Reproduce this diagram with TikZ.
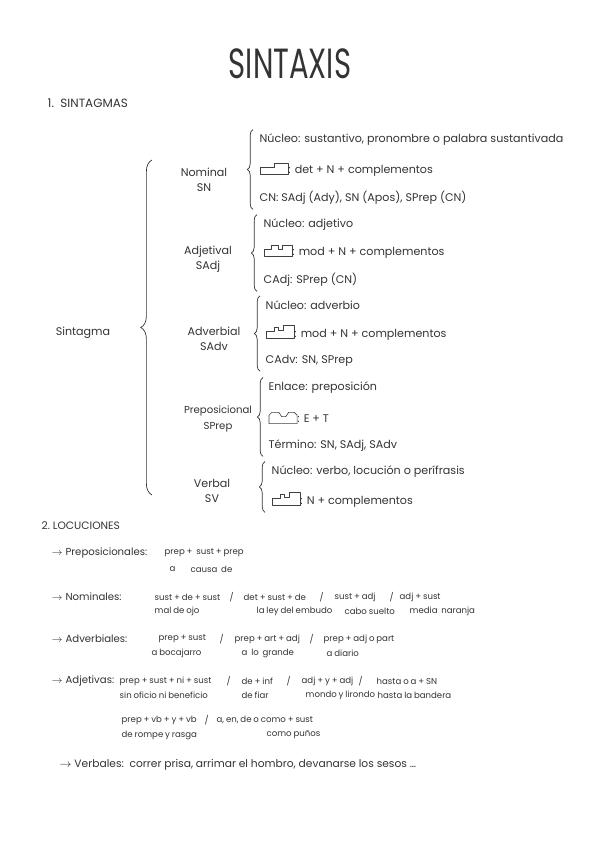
\documentclass[tikz,border=0pt]{standalone}
\usepackage{fontspec}
\setmainfont{Poppins}
\usetikzlibrary{decorations.pathreplacing,calc}

% small stepped box drawn inside the item texts
\newcommand{\stepicon}[1]{\tikz[baseline=0.5pt,x=1pt,y=1pt]\draw[line width=0.45pt,line join=round,black!75] #1;}
\newcommand{\iconnom}{\stepicon{(0,0)--(0,5)--(10,5)--(10,8)--(20,8)--(20,0)--cycle}}
\newcommand{\iconadj}{\stepicon{(0,0)--(0,5)--(5,5)--(5,8)--(10,8)--(10,5)--(13,5)--(13,8)--(20,8)--(20,0)--cycle}}
\newcommand{\iconadv}{\stepicon{(0,0)--(0,5)--(6,5)--(6,8)--(9,8)--(9,6)--(12,6)--(12,9)--(20,9)--(20,0)--cycle}}
\newcommand{\iconprep}{\stepicon{(0,0)--(0,6)--(2,8)--(7,8)--(9,5)--(12,5)--(14,8)--(18,8)--(20,6)--(20,0)--cycle}}
% tight word spaces for the small pattern texts
\newcommand{\subfont}{\fontsize{6.1}{8}\selectfont\spaceskip=0.22em plus 0.05em\relax}

\begin{document}
\begin{tikzpicture}[
  x=0.025cm, y=-0.025cm,
  font=\fontsize{7.9}{11}\selectfont,
  color=black!80,
  txt/.style={anchor=west, inner sep=1pt},
  lbl/.style={align=center, inner sep=1pt},
  sub/.style={txt, font=\subfont},
  head/.style={txt, font=\fontsize{7.2}{9}\selectfont},
  curly/.style={decorate, decoration={brace, amplitude=#1}, line width=0.5pt},
  curly/.default=4pt
]
\useasboundingbox (0,0) rectangle (600,848);

% Title
\node[transform shape, xscale=0.69, font=\fontsize{30}{30}\selectfont] (title) at (290,64) {SINTAXIS};
\node[txt, font=\fontsize{8.5}{10}\selectfont] (sec1) at (46,103) {1.\ \ SINTAGMAS};

% Main tree
\node[lbl] (sint) at (83,333) {Sintagma};
\coordinate (bigtop) at (152,160);
\coordinate (bigbot) at (152,495);
\draw[curly=8pt] (bigbot) -- (bigtop);

% Nominal
\node[lbl] (nom) at (204,180) {Nominal\\SN};
\node[txt] (nom1) at (258,140) {Núcleo: sustantivo, pronombre o palabra sustantivada};
\node[txt] (nom2) at (258,170) {\iconnom: det + N + complementos};
\node[txt] (nom3) at (258,198) {CN: SAdj (Ady), SN (Apos), SPrep (CN)};
\draw[curly] ($(nom3.south west)+(-5,3)$) -- ($(nom1.north west)+(-5,-3)$);

% Adjetival
\node[lbl] (adj) at (208,259) {Adjetival\\SAdj};
\node[txt] (adj1) at (262,225) {Núcleo: adjetivo};
\node[txt] (adj2) at (262,252) {\iconadj: mod + N + complementos};
\node[txt] (adj3) at (262,280) {CAdj: SPrep (CN)};
\draw[curly] ($(adj3.south west)+(-5,3)$) -- ($(adj1.north west)+(-5,-3)$);

% Adverbial
\node[lbl] (adv) at (214,339) {Adverbial\\SAdv};
\node[txt] (adv1) at (264,305) {Núcleo: adverbio};
\node[txt] (adv2) at (264,333) {\iconadv: mod + N + complementos};
\node[txt] (adv3) at (264,361) {CAdv: SN, SPrep};
\draw[curly] ($(adv3.south west)+(-4,3)$) -- ($(adv1.north west)+(-4,-3)$);

% Preposicional
\node[lbl, font=\fontsize{7.2}{11}\selectfont] (prep) at (218,419) {Preposicional\\SPrep};
\node[txt] (prep1) at (267,388) {Enlace: preposición};
\node[txt] (prep2) at (267,418) {\iconprep: E + T};
\node[txt] (prep3) at (267,446) {Término: SN, SAdj, SAdv};
\draw[curly] ($(prep3.south west)+(-4,3)$) -- ($(prep1.north west)+(-4,-3)$);

% Verbal
\node[lbl] (verb) at (212,491) {Verbal\\SV};
\node[txt] (verb1) at (270,472) {Núcleo: verbo, locución o perífrasis};
\node[txt] (verb2) at (270,500) {\iconadv: N + complementos};
\draw[curly] ($(verb2.south west)+(-5,3)$) -- ($(verb1.north west)+(-5,-3)$);

% Locuciones
\node[txt, font=\fontsize{7.6}{9}\selectfont] (sec2) at (40,526) {2.\ LOCUCIONES};

\node[head] (lprep) at (50,553) {$\rightarrow$ Preposicionales:};
\node[sub] (lprept) at (163,553) {prep +\ \ sust + prep};
\node[sub] (lprepa) at (168,569) {a};
\node[sub] (lprepb) at (189,569) {causa\ \ de};

\node[head] (lnom) at (50,597) {$\rightarrow$ Nominales:};
\foreach \x/\t [count=\i] in {153/{sust + de + sust}, 228/\slash, 242/{det + sust + de}, 318/\slash, 333/{sust + adj}, 388/\slash, 398/{adj + sust}}
  \node[sub, name=nomt\i] at (\x,597) {\t};
\foreach \x/\t [count=\i] in {153/{mal de ojo}, 255/{la ley del embudo}, 343/{cabo suelto}, 408/{media\ \ naranja}}
  \node[sub, name=nome\i] at (\x,611) {\t};

\node[head] (ladv) at (50,639) {$\rightarrow$ Adverbiales:};
\foreach \x/\t [count=\i] in {157/{prep + sust}, 218/\slash, 233/{prep + art + adj}, 308/\slash, 322/{prep + adj o part}}
  \node[sub, name=advt\i] at (\x,639) {\t};
\foreach \x/\t [count=\i] in {150/{a bocajarro}, 240/{a\ \ lo\ \ grande}, 325/{a diario}}
  \node[sub, name=adve\i] at (\x,653) {\t};

\node[head] (ladj) at (50,681) {$\rightarrow$ Adjetivas:};
\foreach \x/\t [count=\i] in {118/{prep + sust + ni + sust}, 225/\slash, 240/{de + inf}, 285/\slash, 300/{adj + y + adj}, 357/\slash, 375/{hasta o a + SN}}
  \node[sub, name=adjt\i] at (\x,681) {\t};
\foreach \x/\t [count=\i] in {118/{sin oficio ni beneficio}, 240/{de fiar}, 304/{mondo y lirondo}, 376/{hasta la bandera}}
  \node[sub, name=adje\i] at (\x,695) {\t};
\foreach \x/\t [count=\i] in {120/{prep + vb + y + vb}, 203/\slash, 215/{a, en, de o como + sust}}
  \node[sub, name=adjs\i] at (\x,720) {\t};
\foreach \x/\t [count=\i] in {120/{de rompe y rasga}, 265/{como puños}}
  \node[sub, name=adjf\i] at (\x,735) {\t};

\node[txt, font=\fontsize{7.6}{9}\selectfont] (lverb) at (58,765) {$\rightarrow$ Verbales:\ \ correr prisa, arrimar el hombro, devanarse los sesos \dots};

\end{tikzpicture}
\end{document}
